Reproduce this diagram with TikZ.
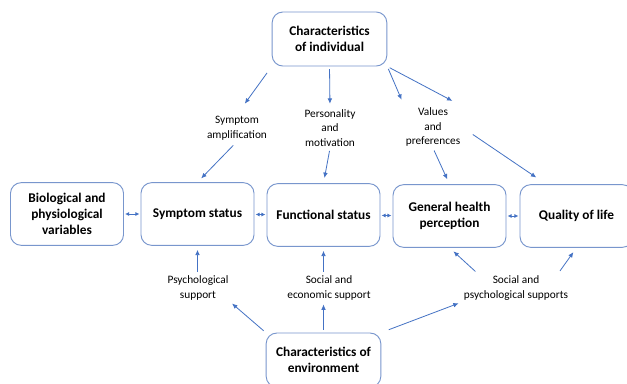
\documentclass[tikz,border=0pt]{standalone}
\usepackage{fontspec}
\setmainfont{Carlito}
\usetikzlibrary{shapes,arrows.meta,positioning,calc}

\definecolor{boxline}{RGB}{120,150,205}
\definecolor{linkblue}{RGB}{68,114,196}

\tikzset{
    statebox/.style={draw=boxline, fill=white, rounded corners=8pt, line width=0.7pt,
        align=center, font=\bfseries\fontsize{10}{12}\selectfont,
        minimum width=84.75pt, minimum height=47pt, inner sep=2pt},
    endbox/.style={statebox, minimum width=86pt, minimum height=40.5pt},
    cause/.style={align=center, font=\fontsize{8.5}{11}\selectfont, inner sep=1pt},
    link/.style={draw=linkblue, line width=0.6pt, -{Latex[length=4pt,width=3.5pt]}},
    twoway/.style={draw=linkblue, line width=0.6pt,
        {Latex[length=3pt,width=3pt]}-{Latex[length=3pt,width=3pt]},
        shorten <=0.8pt, shorten >=0.8pt}
}

\begin{document}
\begin{tikzpicture}[x=0.75pt, y=-0.75pt]
    \fill[white] (0,0) rectangle (627,383);
    \useasboundingbox (0,0) rectangle (627,383);

    % main chain of health outcomes
    \node[statebox] (bio) at (67,214) {Biological and\\physiological\\variables};
    \node[statebox] (sym) at (197.5,214) {Symptom status};
    \node[statebox] (fun) at (323.5,215) {Functional status};
    \node[statebox] (gen) at (449.5,216) {General health\\perception};
    \node[statebox] (qol) at (576.5,216) {Quality of life};

    % individual and environment
    \node[endbox] (indiv) at (329.5,39) {Characteristics\\of individual};
    \node[endbox] (env) at (323.5,360) {Characteristics of\\environment};

    % mediating factors
    \node[cause] (amp) at (237,128) {Symptom\\amplification};
    \node[cause] (pers) at (330,128) {Personality\\and\\motivation};
    \node[cause] (vals) at (433,127) {Values\\and\\preferences};
    \node[cause] (psy) at (198,288) {Psychological\\support};
    \node[cause] (soc) at (329,288) {Social and\\economic support};
    \node[cause] (socpsy) at (516,288) {Social and\\psychological supports};

    \draw[twoway] (bio) -- (sym);
    \draw[twoway] (sym) -- (fun);
    \draw[twoway] (fun) -- (gen);
    \draw[twoway] (gen) -- (qol);

    % from the individual
    \draw[link, shorten <=6pt, shorten >=10pt] (indiv.south west) -- (amp.north);
    \draw[link, shorten <=4pt, shorten >=4pt] (amp.south) -- (sym.north);
    \draw[link, shorten <=2pt, shorten >=3pt] (indiv.south) -- (pers.north);
    \draw[link, shorten <=2pt, shorten >=4pt] (pers.south) -- (fun.north);
    \draw[link, shorten <=2pt, shorten >=5pt] (indiv.south east) -- (vals.north west);
    \draw[link, shorten <=2pt, shorten >=8pt] (indiv.south east) -- (vals.north east);
    \draw[link, shorten <=2pt, shorten >=4pt] (vals.south) -- (gen.north);
    \draw[link, shorten <=10pt, shorten >=9pt] (vals.east) -- ([xshift=20pt]qol.north west);

    % from the environment
    \draw[link, shorten <=2pt, shorten >=3pt] (psy.north -| sym.south) -- (sym.south);
    \draw[link, shorten <=2pt, shorten >=3pt] (soc.north -| fun.south) -- (fun.south);
    \draw[link, shorten <=2pt, shorten >=2pt] (env.north west) -- (psy.south east);
    \draw[link, shorten <=2pt, shorten >=2pt] (env.north) -- (env.north |- soc.south);
    \draw[link, shorten <=6pt, shorten >=3pt] (env.north east) -- (socpsy.south west);
    \draw[link, shorten <=3pt, shorten >=4pt] ([xshift=12pt]socpsy.north west) -- (gen.south);
    \draw[link, shorten <=3pt, shorten >=4pt] ([xshift=-9pt]socpsy.north east) -- (qol.south);
\end{tikzpicture}
\end{document}
